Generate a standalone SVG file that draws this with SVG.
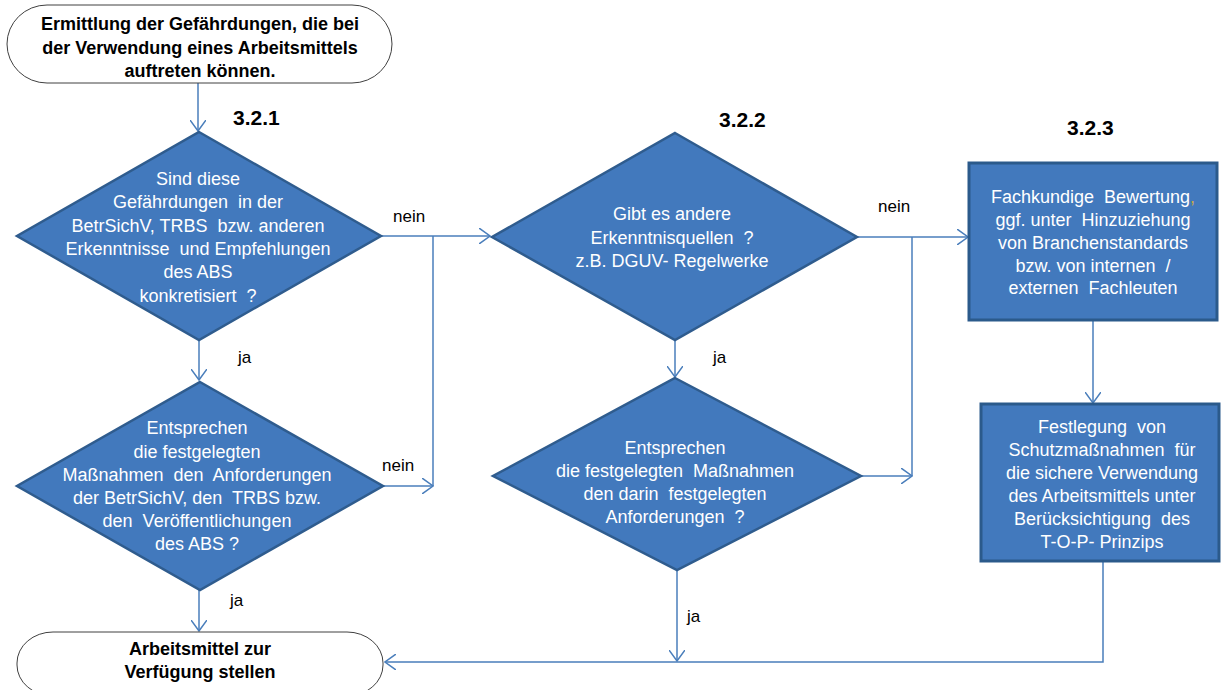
<svg xmlns="http://www.w3.org/2000/svg" width="1223" height="690" viewBox="0 0 1223 690">
<style>
.term{fill:#fff;stroke:#404040;stroke-width:1}
.dia{fill:#4279BD;stroke:#2F5C8E;stroke-width:2.5;stroke-linejoin:miter}
.box{fill:#4279BD;stroke:#2B5A8B;stroke-width:3}
.bt{font-family:"Liberation Sans",Arial,sans-serif;font-size:18px;font-weight:bold;fill:#000;text-anchor:middle}
.wt{font-family:"Liberation Sans",Arial,sans-serif;font-size:18px;fill:#fff;text-anchor:middle}
.lb{font-family:"Liberation Sans",Arial,sans-serif;font-size:17px;fill:#000}
.num{font-family:"Liberation Sans",Arial,sans-serif;font-size:21px;font-weight:bold;fill:#000}
.c{fill:none;stroke:#4A7EBB;stroke-width:1.5}
</style>
<defs>
<marker id="ah" viewBox="0 0 12 16" refX="11" refY="8" markerWidth="12" markerHeight="16" markerUnits="userSpaceOnUse" orient="auto">
<path d="M0,0 L11,8 L0,16" fill="none" stroke="#4A7EBB" stroke-width="1.5"/>
</marker>
</defs>

<g id="connectors">
<line class="c" x1="198" y1="83" x2="198" y2="131" marker-end="url(#ah)"/>
<line class="c" x1="199" y1="340" x2="199" y2="380" marker-end="url(#ah)"/>
<line class="c" x1="199" y1="590" x2="199" y2="631" marker-end="url(#ah)"/>
<line class="c" x1="380" y1="236" x2="490" y2="236" marker-end="url(#ah)"/>
<line class="c" x1="433" y1="236" x2="433" y2="486"/>
<line class="c" x1="382" y1="486" x2="433" y2="486" marker-end="url(#ah)"/>
<line class="c" x1="675" y1="340" x2="675" y2="377" marker-end="url(#ah)"/>
<line class="c" x1="857" y1="237" x2="968" y2="237" marker-end="url(#ah)"/>
<line class="c" x1="912" y1="237" x2="912" y2="476"/>
<line class="c" x1="860" y1="476" x2="912" y2="476" marker-end="url(#ah)"/>
<line class="c" x1="677" y1="569" x2="677" y2="661" marker-end="url(#ah)"/>
<polyline class="c" points="1103,562 1103,662 385,662" marker-end="url(#ah)"/>
<line class="c" x1="1093" y1="320" x2="1093" y2="403" marker-end="url(#ah)"/>
</g>

<g id="labels">
<text class="lb" x="393" y="222">nein</text>
<text class="lb" x="238" y="363">ja</text>
<text class="lb" x="382" y="471">nein</text>
<text class="lb" x="230" y="606">ja</text>
<text class="lb" x="878" y="212">nein</text>
<text class="lb" x="713" y="363">ja</text>
<text class="lb" x="687" y="622">ja</text>
<text class="num" x="233" y="125">3.2.1</text>
<text class="num" x="719" y="127">3.2.2</text>
<text class="num" x="1067" y="135">3.2.3</text>
</g>

<g id="start">
<rect class="term" x="7" y="5" width="385" height="78" rx="40" ry="39"/>
<text class="bt" x="200" y="30">Ermittlung der Gefährdungen, die bei</text>
<text class="bt" x="200" y="54">der Verwendung eines Arbeitsmittels</text>
<text class="bt" x="200" y="77">auftreten können.</text>
</g>

<g id="d1">
<polygon class="dia" points="199,132 381,236 199,340 17,236"/>
<text class="wt" x="198" y="185">Sind diese</text>
<text class="wt" x="198" y="208" xml:space="preserve">Gefährdungen  in der</text>
<text class="wt" x="198" y="232" xml:space="preserve">BetrSichV, TRBS  bzw. anderen</text>
<text class="wt" x="198" y="255" xml:space="preserve">Erkenntnisse  und Empfehlungen</text>
<text class="wt" x="198" y="278">des ABS</text>
<text class="wt" x="198" y="302" xml:space="preserve">konkretisiert  ?</text>
</g>

<g id="d3">
<polygon class="dia" points="200,382 383,486 200,590 17,486"/>
<text class="wt" x="197" y="434">Entsprechen</text>
<text class="wt" x="197" y="458">die festgelegten</text>
<text class="wt" x="197" y="481" xml:space="preserve">Maßnahmen  den  Anforderungen</text>
<text class="wt" x="197" y="504" xml:space="preserve">der BetrSichV, den  TRBS bzw.</text>
<text class="wt" x="197" y="527" xml:space="preserve">den  Veröffentlichungen</text>
<text class="wt" x="197" y="550">des ABS ?</text>
</g>

<g id="end">
<rect class="term" x="17" y="632" width="366" height="64" rx="36" ry="31"/>
<text class="bt" x="200" y="655">Arbeitsmittel zur</text>
<text class="bt" x="200" y="678">Verfügung stellen</text>
</g>

<g id="d2">
<polygon class="dia" points="675,133 857,237 675,340 492,237"/>
<text class="wt" x="672" y="220">Gibt es andere</text>
<text class="wt" x="672" y="244" xml:space="preserve">Erkenntnisquellen  ?</text>
<text class="wt" x="672" y="267">z.B. DGUV- Regelwerke</text>
</g>

<g id="d4">
<polygon class="dia" points="675,378 861,476 677,570 493,476"/>
<text class="wt" x="675" y="454">Entsprechen</text>
<text class="wt" x="675" y="477" xml:space="preserve">die festgelegten  Maßnahmen</text>
<text class="wt" x="675" y="500" xml:space="preserve">den darin  festgelegten</text>
<text class="wt" x="675" y="523" xml:space="preserve">Anforderungen  ?</text>
</g>

<g id="b3">
<rect class="box" x="969" y="163" width="248" height="157"/>
<text class="wt" x="1093" y="203" xml:space="preserve">Fachkundige  Bewertung<tspan fill="#C9A94A">,</tspan></text>
<text class="wt" x="1093" y="226" xml:space="preserve">ggf. unter  Hinzuziehung</text>
<text class="wt" x="1093" y="249">von Branchenstandards</text>
<text class="wt" x="1093" y="272" xml:space="preserve">bzw. von internen  /</text>
<text class="wt" x="1093" y="294" xml:space="preserve">externen  Fachleuten</text>
</g>

<g id="b4">
<rect class="box" x="981" y="404" width="238" height="157"/>
<text class="wt" x="1102" y="433" xml:space="preserve">Festlegung  von</text>
<text class="wt" x="1102" y="456" xml:space="preserve">Schutzmaßnahmen  für</text>
<text class="wt" x="1102" y="479">die sichere Verwendung</text>
<text class="wt" x="1102" y="502">des Arbeitsmittels unter</text>
<text class="wt" x="1102" y="525" xml:space="preserve">Berücksichtigung  des</text>
<text class="wt" x="1102" y="548">T-O-P- Prinzips</text>
</g>
</svg>
